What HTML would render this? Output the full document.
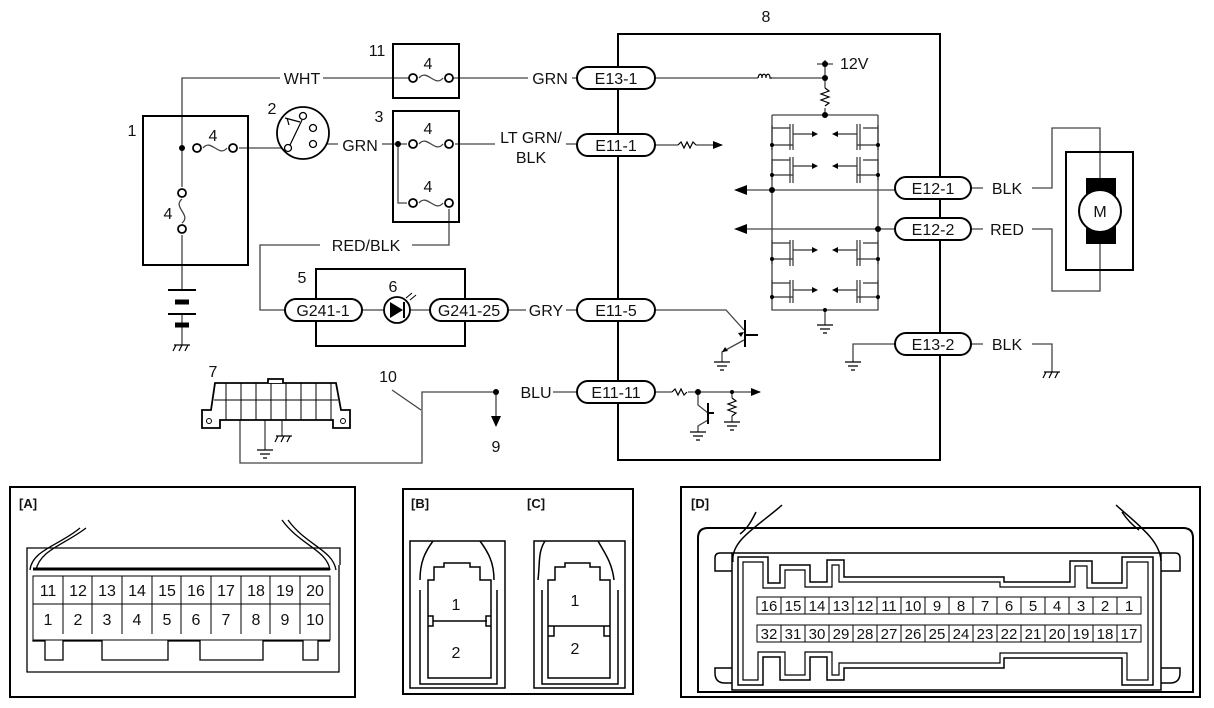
<!DOCTYPE html>
<html><head><meta charset="utf-8"><style>
html,body{margin:0;padding:0;background:#fff}
svg{display:block}
text{font-family:"Liberation Sans",Arial,sans-serif;fill:#111}
</style></head><body>
<svg width="1214" height="708" viewBox="0 0 1214 708" xmlns="http://www.w3.org/2000/svg">
<defs>
<marker id="ar" viewBox="0 0 10 10" refX="9" refY="5" markerWidth="10" markerHeight="10" orient="auto-start-reverse" markerUnits="userSpaceOnUse"><path d="M0,1 L10,5 L0,9z" fill="#000"/></marker>
</defs>
<g fill="none" stroke="#444" stroke-width="1.3">
<path d="M182,148 V78 H280 M323,78 H413 M449,78 H528 M572,78 H577"/>
<path d="M182,148 V187 M182,235 V290"/>
<path d="M182,314 V345"/>
<path d="M203,148 C211,138 219,158 227,148"/>
<path d="M182,199 C172,207 192,215 182,223"/>
<path d="M239,148 H288"/>
<path d="M318,144 H338 M382,144 H398 H407 M455,144 H495 M566,144 H577"/>
<path d="M419,144 C427,134 435,154 443,144 M419,78 C427,68 435,88 443,78 M419,203 C427,193 435,213 443,203"/>
<path d="M398,144 V203 H407 M449,209 V245 H412 M320,245 H260 V310 H285"/>
<path d="M362,310 H384 M410,310 H430 M508,310 H526 M566,310 H577"/>
<path d="M655,78 H758 M772,78 H825 V88 M825,108 V115 M825,60 V78 M817,64 H833"/>
<path d="M655,145 H678 M696,145 H722" marker-end="url(#ar)"/>
<path d="M655,310 H726 L744,330"/>
<path d="M744,340 L722,352 V362"/>
<path d="M655,392 H672 M688,392 H760" marker-end="url(#ar)"/>
<path d="M698,392 V405 L708,413 M708,420 L698,426 V432 M732,392 V398 M732,416 V422"/>
<path d="M895,344 H853 V362 M971,344 H983 M1032,344 H1052 V372"/>
<path d="M496,392 H422 V463 H240 V420 M496,392 V416" />
<path d="M553,392 H577"/>
<path d="M392,390 L421,410"/>
<path d="M265,420 V450 M282,420 V436"/>
<path d="M772,115 H878 M772,115 V310 H878 V115 M825,310 V325 M745,190 H895 M745,229 H895"/>
<path d="M971,188 H983 M1032,188 H1052 V128 H1100 V180 M971,229 H983 M1032,229 H1052 V291 H1100 V244"/>
</g>
<g fill="#000">
<path d="M734,190 l13,-5 v10z M734,229 l13,-5 v10z M496,427 l-5,-11 h10z"/>
<circle cx="182" cy="148" r="3"/><circle cx="398" cy="144" r="3"/><circle cx="825" cy="64" r="3"/><circle cx="825" cy="78" r="3"/><circle cx="825" cy="115" r="3"/><circle cx="772" cy="190" r="3"/><circle cx="878" cy="229" r="3"/><circle cx="496" cy="392" r="3"/><circle cx="698" cy="392" r="3"/><circle cx="732" cy="392" r="2"/><circle cx="825" cy="310" r="2"/>
</g>
<g fill="none" stroke="#000" stroke-width="1.2">
<path d="M825,88 l4,3 l-8,3 l8,3 l-8,3 l8,3 l-4,3"/>
<path d="M678,145 l3,-3 l3,6 l3,-6 l3,6 l3,-6 l3,3"/>
<path d="M672,392 l3,-3 l3,6 l3,-6 l3,6 l3,-3"/>
<path d="M732,398 l4,3 l-8,3 l8,3 l-8,3 l8,3 l-4,3"/>
<path d="M758,78 c1,-5 4,-5 4,0 c0,-5 4,-5 4,0 c0,-5 4,-5 4,0 h2"/>
<path d="M745,320 V347 M745,335 H758 M708,403 V424 M708,413 H714" stroke-width="2"/>
<path d="M714,362 h16 M717,366 h10 M720,370 h4 M845,362 h16 M848,366 h10 M851,370 h4 M817,325 h16 M820,329 h10 M823,333 h4 M690,432 h16 M693,436 h10 M696,440 h4 M724,422 h16 M727,426 h10 M730,430 h4 M257,450 h16 M260,454 h10 M263,458 h4"/>
<path d="M1044,372 h16 M1046,372 l-3,6 M1052,372 l-3,6 M1058,372 l-3,6 M174,345 h16 M176,345 l-3,6 M182,345 l-3,6 M188,345 l-3,6 M276,436 h16 M278,436 l-3,6 M284,436 l-3,6 M290,436 l-3,6"/>
</g>
<g fill="none" stroke="#333" stroke-width="1.2">
<path d="M772,125 V150 M772,128 H790 M790,124 V150 M793,124 V150 M793,134 H812 M772,145 H793"/>
<path d="M772,159 V180 M772,160 H790 M790,157 V183 M793,157 V183 M793,166 H812 M772,175 H793"/>
<path d="M772,240 V264 M772,243 H790 M790,240 V266 M793,240 V266 M793,250 H812 M772,259 H793"/>
<path d="M772,280 V300 M772,283 H790 M790,280 V303 M793,280 V303 M793,290 H812 M772,297 H793"/>
<path d="M878,125 V150 M878,128 H863 M860,124 V150 M857,124 V150 M857,134 H838 M878,145 H857"/>
<path d="M878,159 V180 M878,160 H863 M860,157 V183 M857,157 V183 M857,166 H838 M878,175 H857"/>
<path d="M878,240 V264 M878,243 H863 M860,240 V266 M857,240 V266 M857,250 H838 M878,259 H857"/>
<path d="M878,280 V300 M878,283 H863 M860,280 V303 M857,280 V303 M857,290 H838 M878,297 H857"/>
</g>
<g fill="#000">
<circle cx="772" cy="145" r="2"/><circle cx="772" cy="175" r="2"/><circle cx="772" cy="259" r="2"/><circle cx="772" cy="297" r="2"/>
<circle cx="878" cy="145" r="2"/><circle cx="878" cy="175" r="2"/><circle cx="878" cy="259" r="2"/><circle cx="878" cy="297" r="2"/>
<path d="M812,131 v6 l6,-3z M812,163 v6 l6,-3z M812,247 v6 l6,-3z M812,287 v6 l6,-3z M838,131 v6 l-6,-3z M838,163 v6 l-6,-3z M838,247 v6 l-6,-3z M838,287 v6 l-6,-3z"/>
<path d="M744,332 l-6,1 l3,4z M722,352 l6,-1 l-3,-4z"/>
</g>
<g fill="none" stroke="#000" stroke-width="2">
<rect x="618" y="34" width="322" height="426"/>
<rect x="393" y="44" width="66" height="54"/>
<rect x="393" y="111" width="66" height="111"/>
<rect x="143" y="116" width="105" height="149"/>
<rect x="316" y="269" width="149" height="77"/>
<rect x="1066" y="152" width="67" height="118"/>
</g>
<g fill="#fff" stroke="#000" stroke-width="1.8">
<circle cx="413" cy="78" r="4"/><circle cx="449" cy="78" r="4"/>
<circle cx="413" cy="144" r="4"/><circle cx="449" cy="144" r="4"/>
<circle cx="413" cy="203" r="4"/><circle cx="449" cy="203" r="4"/>
<circle cx="197" cy="148" r="4"/><circle cx="233" cy="148" r="4"/>
<circle cx="182" cy="193" r="4"/><circle cx="182" cy="229" r="4"/>
<circle cx="303" cy="133" r="26"/>
<circle cx="397" cy="310" r="13"/>
</g>
<g fill="#fff" stroke="#000" stroke-width="1.3">
<circle cx="288" cy="148" r="3.5"/><circle cx="313" cy="144" r="3.5"/><circle cx="313" cy="128" r="3.5"/><circle cx="303" cy="116" r="3.5"/>
</g>
<path d="M290,145 L302,120 M285,118 L300,122 M287,118 L289,125" stroke="#000" fill="none" stroke-width="1.2"/>
<path d="M390,302 v16 l13,-8z" fill="#000"/><path d="M404,302 v16" stroke="#000" stroke-width="2"/>
<path d="M406,298 l6,-5 M410,300 l6,-5" stroke="#000" stroke-width="1"/>
<g stroke="#000"><path d="M168,290 h28 M168,314 h28" stroke-width="2"/><path d="M175,302 h14 M175,325 h14" stroke-width="5"/></g>
<rect x="1086" y="178" width="30" height="66" fill="#000"/>
<circle cx="1100" cy="211" r="21" fill="#fff" stroke="#000" stroke-width="2"/>
<text x="1100" y="217" font-size="16" text-anchor="middle">M</text>
<g fill="#fff" stroke="#000" stroke-width="2">
<rect x="577" y="67" width="78" height="22" rx="11"/>
<rect x="577" y="134" width="78" height="22" rx="11"/>
<rect x="577" y="299" width="78" height="22" rx="11"/>
<rect x="577" y="381" width="78" height="22" rx="11"/>
<rect x="895" y="177" width="76" height="22" rx="11"/>
<rect x="895" y="218" width="76" height="22" rx="11"/>
<rect x="895" y="333" width="76" height="22" rx="11"/>
<rect x="285" y="299" width="77" height="22" rx="11"/>
<rect x="430" y="299" width="78" height="22" rx="11"/>
</g>
<g font-size="16" text-anchor="middle">
<text x="616" y="84">E13-1</text><text x="616" y="151">E11-1</text><text x="616" y="316">E11-5</text><text x="616" y="398">E11-11</text>
<text x="933" y="194">E12-1</text><text x="933" y="235">E12-2</text><text x="933" y="350">E13-2</text>
<text x="323" y="316">G241-1</text><text x="469" y="316">G241-25</text>
<text x="302" y="84">WHT</text><text x="550" y="84">GRN</text><text x="360" y="151">GRN</text>
<text x="531" y="143">LT GRN/</text><text x="531" y="163">BLK</text>
<text x="366" y="251">RED/BLK</text><text x="546" y="316">GRY</text><text x="536" y="398">BLU</text>
<text x="1007" y="194">BLK</text><text x="1007" y="235">RED</text><text x="1007" y="350">BLK</text>
<text x="840" y="69" text-anchor="start">12V</text>
<text x="766" y="22">8</text><text x="377" y="56">11</text><text x="428" y="69">4</text><text x="379" y="122">3</text>
<text x="428" y="134">4</text><text x="428" y="192">4</text><text x="132" y="136">1</text><text x="213" y="141">4</text>
<text x="168" y="219">4</text><text x="272" y="114">2</text><text x="302" y="283">5</text><text x="393" y="292">6</text>
<text x="213" y="377">7</text><text x="388" y="382">10</text><text x="496" y="452">9</text>
</g>
<g fill="#fff" stroke="#000" stroke-width="1.8">
<path d="M215,383 H336 L341,410 H350 V428 H333 V420 H220 V428 H202 V410 H211z"/>
<path d="M268,383 v-4 h15 v4"/>
</g>
<g stroke="#000" stroke-width="1"><path d="M214,400 H338 M226,383 V420 M241,383 V420 M256,383 V420 M271,383 V420 M286,383 V420 M301,383 V420 M316,383 V420 M331,383 V420"/></g>
<circle cx="209" cy="421" r="2.5" fill="none" stroke="#000"/><circle cx="343" cy="421" r="2.5" fill="none" stroke="#000"/>
<g fill="none" stroke="#000" stroke-width="2">
<rect x="10" y="487" width="345" height="210"/>
<rect x="403" y="489" width="230" height="205"/>
<rect x="681" y="487" width="519" height="210"/>
</g>
<g font-size="13" font-weight="bold"><text x="19" y="508">[A]</text><text x="411" y="508">[B]</text><text x="527" y="508">[C]</text><text x="691" y="508">[D]</text></g>
<!-- A -->
<g fill="none" stroke="#000" stroke-width="1.3">
<path d="M27,565 V548 H340 V565 M27,565 V672 H339 V565"/>
<path d="M33,630 V576 H330 V640 H33z" stroke-width="1"/>
<path d="M33,569 H330" stroke-width="3"/>
<path d="M33,640 V641 H45 V660 H63 V641 H102 V660 H168 V641 H200 V660 H263 V641 H303 V660 H318 V641 H330"/>
<path d="M30,570 C32,550 60,545 80,528 M36,570 C40,550 64,545 86,528 M336,570 C333,550 306,545 288,520 M330,570 C327,550 300,545 282,520"/>
</g>
<g stroke="#000" stroke-width="1"><path d="M33,604 H330 M63,576 V634 M92,576 V634 M122,576 V634 M152,576 V634 M181,576 V634 M211,576 V634 M241,576 V634 M270,576 V634 M300,576 V634"/></g>
<g font-size="16" text-anchor="middle">
<text x="48" y="596">11</text><text x="78" y="596">12</text><text x="107" y="596">13</text><text x="137" y="596">14</text><text x="167" y="596">15</text><text x="196" y="596">16</text><text x="226" y="596">17</text><text x="256" y="596">18</text><text x="285" y="596">19</text><text x="315" y="596">20</text>
<text x="48" y="625">1</text><text x="78" y="625">2</text><text x="107" y="625">3</text><text x="137" y="625">4</text><text x="167" y="625">5</text><text x="196" y="625">6</text><text x="226" y="625">7</text><text x="256" y="625">8</text><text x="285" y="625">9</text><text x="315" y="625">10</text>
</g>
<!-- B C -->
<g fill="none" stroke="#000" stroke-width="1.5">
<rect x="410" y="541" width="95" height="147"/>
<rect x="534" y="541" width="91" height="147"/>
<path d="M420,590 V684 H497 V590 M428,580 V678 H491 V580 H480 V567 H470 V563 H444 V567 H434 V580z"/>
<path d="M433,621 H487 M428,616 h5 v10 h-5 M491,616 h-5 v10 h5"/>
<path d="M542,590 V684 H618 V590 M548,580 V678 H610 V580 H600 V567 H590 V563 H565 V567 H555 V580z"/>
<path d="M548,626 H610 M548,626 h6 v10 h-6 M610,626 h-6 v10 h6"/>
<path d="M433,541 C425,552 420,562 420,580 M480,541 C488,552 494,562 494,580 M545,541 C538,552 540,562 538,580 M598,541 C604,552 612,562 614,580"/>
</g>
<g font-size="16" text-anchor="middle"><text x="456" y="610">1</text><text x="456" y="658">2</text><text x="575" y="606">1</text><text x="575" y="654">2</text></g>
<!-- D -->
<g fill="none" stroke="#000" stroke-width="1.5">
<path d="M698,538 Q698,528 708,528 H1183 Q1193,528 1193,538 V692 H698z" stroke-width="2"/>
<path d="M732,553 H720 Q715,553 715,558 V571 H732 M1161,553 H1175 Q1180,553 1180,558 V571 H1161"/>
<path d="M732,668 H715 V673 Q715,683 725,683 H732 M1161,668 H1180 V673 Q1180,683 1170,683 H1161"/>
<path d="M732,553 H1161 V690 H732z"/>
<path d="M738,685 V557 H768 V583 H780 V565 H810 V582 H827 V560 H844 V577 H1004 V582 H1070 V561 H1092 V583 H1122 V557 H1153 V685 H1122 V658 H1004 V668 H844 V680 H827 V657 H810 V680 H780 V657 H763 V685 Z"/>
<path d="M743,680 V562 H763 V588 H785 V570 H805 V587 H832 V565 H839 V582 H1000 V587 H1075 V566 H1087 V588 H1127 V562 H1148 V680 H1127 V653 H1000 V663 H839 V675 H832 V652 H805 V675 H785 V652 H758 V680 Z" stroke-width="1.2"/>
<path d="M733,562 C730,540 760,525 782,505 M740,534 C748,528 752,520 756,512 M1161,561 C1160,540 1138,525 1116,505 M1122,512 C1126,518 1132,525 1139,530"/>
</g>
<g stroke="#000" stroke-width="1" fill="#fff">
<rect x="757" y="597" width="384" height="17"/><rect x="757" y="625" width="384" height="17"/>
</g>
<g stroke="#000" stroke-width="1" fill="none">
<path d="M781,597 V614 M805,597 V614 M829,597 V614 M853,597 V614 M877,597 V614 M901,597 V614 M925,597 V614 M949,597 V614 M973,597 V614 M997,597 V614 M1021,597 V614 M1045,597 V614 M1069,597 V614 M1093,597 V614 M1117,597 V614"/>
<path d="M781,625 V642 M805,625 V642 M829,625 V642 M853,625 V642 M877,625 V642 M901,625 V642 M925,625 V642 M949,625 V642 M973,625 V642 M997,625 V642 M1021,625 V642 M1045,625 V642 M1069,625 V642 M1093,625 V642 M1117,625 V642"/>
</g>
<g font-size="15" text-anchor="middle">
<text x="769" y="611">16</text><text x="793" y="611">15</text><text x="817" y="611">14</text><text x="841" y="611">13</text><text x="865" y="611">12</text><text x="889" y="611">11</text><text x="913" y="611">10</text><text x="937" y="611">9</text><text x="961" y="611">8</text><text x="985" y="611">7</text><text x="1009" y="611">6</text><text x="1033" y="611">5</text><text x="1057" y="611">4</text><text x="1081" y="611">3</text><text x="1105" y="611">2</text><text x="1129" y="611">1</text>
<text x="769" y="639">32</text><text x="793" y="639">31</text><text x="817" y="639">30</text><text x="841" y="639">29</text><text x="865" y="639">28</text><text x="889" y="639">27</text><text x="913" y="639">26</text><text x="937" y="639">25</text><text x="961" y="639">24</text><text x="985" y="639">23</text><text x="1009" y="639">22</text><text x="1033" y="639">21</text><text x="1057" y="639">20</text><text x="1081" y="639">19</text><text x="1105" y="639">18</text><text x="1129" y="639">17</text>
</g>
</svg>
</body></html>
